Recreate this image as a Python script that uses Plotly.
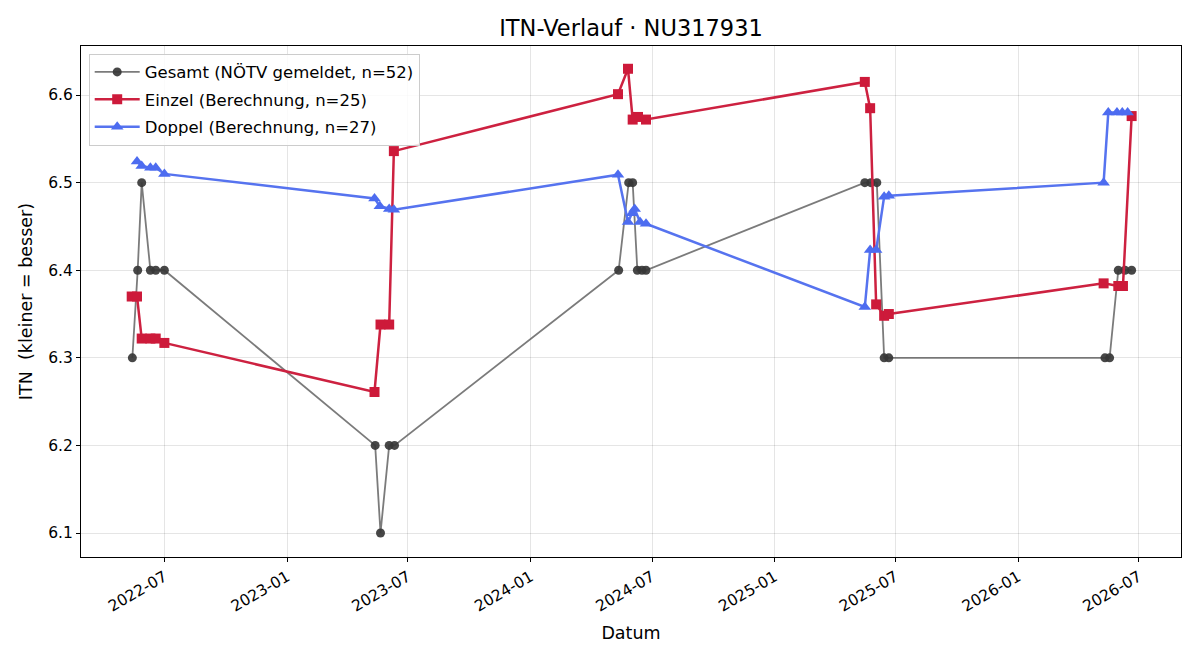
import plotly.graph_objects as go

# Gesamt (NÖTV gemeldet)
gesamt_dates = ["2022-05-14", "2022-05-22", "2022-05-28", "2022-06-10", "2022-06-18", "2022-07-01",
                "2023-05-13", "2023-05-21", "2023-06-03", "2023-06-11",
                "2024-05-12", "2024-05-27", "2024-06-02", "2024-06-09", "2024-06-16", "2024-06-22",
                "2025-05-16", "2025-05-25", "2025-06-03", "2025-06-14", "2025-06-21",
                "2026-05-11", "2026-05-18", "2026-05-31", "2026-06-10", "2026-06-20"]
gesamt_vals = [6.3, 6.4, 6.5, 6.4, 6.4, 6.4,
               6.2, 6.1, 6.2, 6.2,
               6.4, 6.5, 6.5, 6.4, 6.4, 6.4,
               6.5, 6.5, 6.5, 6.3, 6.3,
               6.3, 6.3, 6.4, 6.4, 6.4]

# Einzel (Berechnung)
einzel_dates = ["2022-05-13", "2022-05-21", "2022-05-28", "2022-06-10", "2022-06-18", "2022-07-01",
                "2023-05-12", "2023-05-21", "2023-06-03", "2023-06-10",
                "2024-05-11", "2024-05-26", "2024-06-02", "2024-06-10", "2024-06-22",
                "2025-05-16", "2025-05-24", "2025-06-02", "2025-06-14", "2025-06-21",
                "2026-05-09", "2026-05-31", "2026-06-07", "2026-06-20"]
einzel_vals = [6.370, 6.370, 6.322, 6.322, 6.322, 6.317,
               6.261, 6.338, 6.338, 6.536,
               6.601, 6.630, 6.572, 6.575, 6.572,
               6.615, 6.585, 6.361, 6.348, 6.350,
               6.385, 6.382, 6.382, 6.576]

# Doppel (Berechnung)
doppel_dates = ["2022-05-21", "2022-05-28", "2022-06-10", "2022-06-18", "2022-07-01",
                "2023-05-12", "2023-05-20", "2023-06-03", "2023-06-10",
                "2024-05-11", "2024-05-26", "2024-06-01", "2024-06-05", "2024-06-13", "2024-06-22",
                "2025-05-16", "2025-05-24", "2025-06-02", "2025-06-14", "2025-06-21",
                "2026-05-09", "2026-05-16", "2026-05-29", "2026-06-06", "2026-06-14"]
doppel_vals = [6.524, 6.519, 6.517, 6.517, 6.510,
               6.482, 6.473, 6.470, 6.469,
               6.509, 6.455, 6.465, 6.470, 6.455, 6.453,
               6.358, 6.423, 6.423, 6.484, 6.485,
               6.500, 6.580, 6.580, 6.580, 6.580]

x_ticks = ["2022-07-01", "2023-01-01", "2023-07-01", "2024-01-01", "2024-07-01",
           "2025-01-01", "2025-07-01", "2026-01-01", "2026-07-01"]
x_ticktext = ["2022-07", "2023-01", "2023-07", "2024-01", "2024-07",
              "2025-01", "2025-07", "2026-01", "2026-07"]
y_ticks = [6.1, 6.2, 6.3, 6.4, 6.5, 6.6]

FONT = "DejaVu Sans"

fig = go.Figure()
fig.add_trace(go.Scatter(
    x=gesamt_dates, y=gesamt_vals, mode="lines+markers",
    name="Gesamt (NÖTV gemeldet, n=52)", legendgroup="g",
    line=dict(color="rgba(90,90,90,0.8)", width=1.8),
    marker=dict(symbol="circle", size=9, color="rgba(55,55,55,0.92)", line=dict(width=0)),
))
fig.add_trace(go.Scatter(
    x=einzel_dates, y=einzel_vals, mode="lines+markers",
    name="Einzel (Berechnung, n=25)", legendgroup="e",
    line=dict(color="#CD2140", width=2.5),
    marker=dict(symbol="square", size=10, color="#CD1A3A", line=dict(width=0)),
))
fig.add_trace(go.Scatter(
    x=doppel_dates, y=doppel_vals, mode="lines+markers",
    name="Doppel (Berechnung, n=27)", legendgroup="d",
    line=dict(color="#5673EF", width=2.5),
    marker=dict(symbol="triangle-up", size=11, color="#4D6CF0", line=dict(width=0)),
))

axis_common = dict(
    showline=True, linecolor="black", linewidth=1.2, mirror=True,
    ticks="outside", ticklen=4, tickwidth=1, tickcolor="black",
    showgrid=True, gridcolor="rgba(0,0,0,0.1)", gridwidth=1,
    zeroline=False,
    tickfont=dict(family=FONT, size=15.5, color="black"),
)

fig.update_layout(
    width=1200, height=660,
    margin=dict(l=81, r=19, t=46, b=103),
    paper_bgcolor="white", plot_bgcolor="white",
    font=dict(family=FONT, color="black"),
    title=dict(text="ITN-Verlauf · NU317931", x=0.5, xref="paper", xanchor="center",
               y=1 - 28 / 660, yanchor="middle",
               font=dict(family=FONT, size=22.5, color="black")),
    xaxis=dict(
        type="date", range=["2022-02-26", "2026-09-02"],
        tickvals=x_ticks, ticktext=x_ticktext, tickangle=-30,
        title=dict(text="Datum", font=dict(family=FONT, size=17.5), standoff=12),
        **axis_common,
    ),
    yaxis=dict(
        range=[6.0726, 6.656],
        tickvals=y_ticks, ticktext=[f"{v:.1f}" for v in y_ticks],
        title=dict(text="ITN\u00a0 (kleiner = besser)", font=dict(family=FONT, size=17.5), standoff=11),
        **axis_common,
    ),
    legend=dict(
        x=0.007, y=0.985, xanchor="left", yanchor="top",
        bgcolor="rgba(255,255,255,0.85)", bordercolor="#cccccc", borderwidth=1,
        font=dict(family=FONT, size=16.5, color="black"),
        itemwidth=45, tracegroupgap=3,
    ),
    showlegend=True,
)

fig.write_html("out.html")
